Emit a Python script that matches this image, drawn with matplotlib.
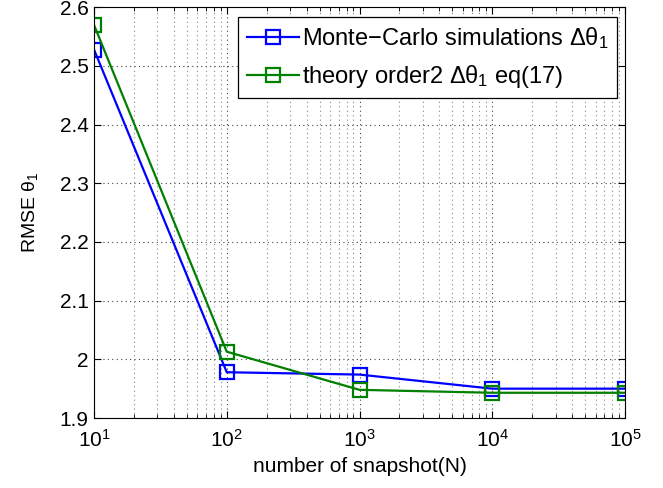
import numpy as np
import matplotlib.pyplot as plt

plt.rcParams['font.family'] = ['Liberation Sans', 'DejaVu Sans']
plt.rcParams['mathtext.fontset'] = 'custom'
plt.rcParams['mathtext.rm'] = 'Liberation Sans'
plt.rcParams['mathtext.it'] = 'Liberation Sans'

# données
snapshots = [1e1, 1e2, 1e3, 1e4, 1e5]
rmse_mc = [2.528, 1.978, 1.974, 1.950, 1.950]
rmse_theory = [2.570, 2.013, 1.948, 1.943, 1.943]

fig = plt.figure(figsize=(6.63, 4.88), dpi=100)
ax = fig.add_axes([94 / 663, 1 - 418 / 488, 531 / 663, 410.7 / 488])

ax.semilogx(snapshots, rmse_mc, '-s', color='#0000ff', lw=1.6, ms=10,
            mfc='none', mew=1.6, label=r'Monte$-$Carlo simulations $\Delta\theta_1$')
ax.semilogx(snapshots, rmse_theory, '-s', color='#008000', lw=1.6, ms=10,
            mfc='none', mew=1.6, label=r'theory order2 $\Delta\theta_1$ eq(17)')

ax.set_xlim(1e1, 1e5)
ax.set_ylim(1.9, 2.6)
ax.set_yticks(np.arange(1.9, 2.61, 0.1))
ax.set_yticklabels(['1.9', '2', '2.1', '2.2', '2.3', '2.4', '2.5', '2.6'])

ax.grid(True, which='major', axis='both', ls=(0, (1, 3)), color='#444444', lw=0.8)
ax.grid(True, which='minor', axis='x', ls=(0, (1, 3)), color='#888888', lw=0.8)
ax.tick_params(which='both', direction='in', top=True, right=True, labelsize=15)
ax.tick_params(which='major', length=5)
ax.tick_params(which='minor', length=3)
ax.tick_params(axis='x', pad=8)
ax.tick_params(axis='y', pad=4)

ax.set_xlabel('number of snapshot(N)', fontsize=15, labelpad=4)
ax.set_ylabel(r'RMSE $\theta_1$', fontsize=14, labelpad=14)

leg = ax.legend(loc='upper right', bbox_to_anchor=(617 / 663, 1 - 17 / 488),
                bbox_transform=fig.transFigure, fontsize=17, fancybox=False,
                framealpha=1, edgecolor='black', handlelength=2.2,
                handletextpad=0.15, borderpad=0.35, labelspacing=0.5,
                borderaxespad=0)
leg.get_frame().set_linewidth(0.9)

plt.savefig('out.png', dpi=100)
